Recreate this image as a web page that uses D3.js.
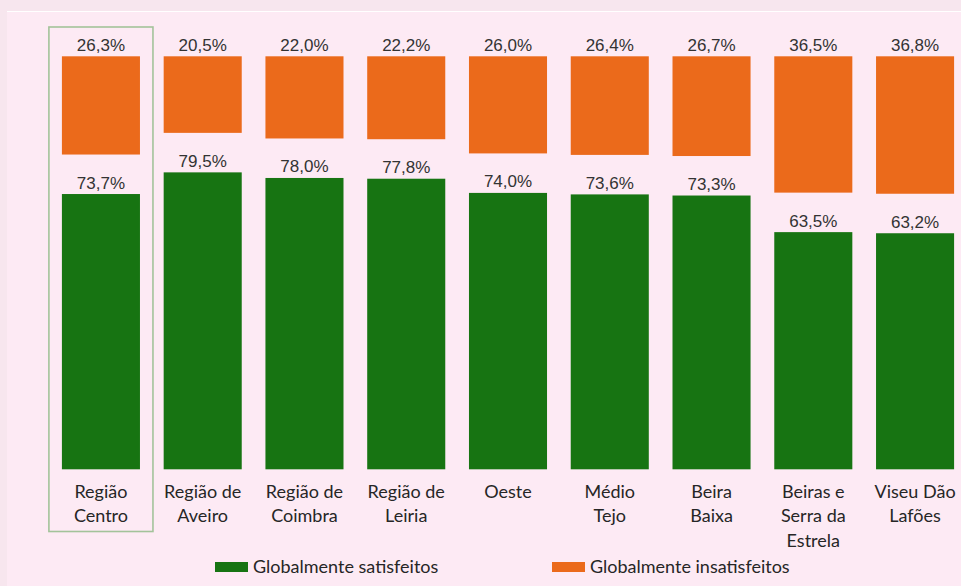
<!DOCTYPE html>
<html>
<head>
<meta charset="utf-8">
<script src="https://cdn.jsdelivr.net/npm/d3@7"></script>
<style>
  html, body { margin: 0; padding: 0; background: #f7e6ee; }
  svg { display: block; }
</style>
</head>
<body>
<svg id="chart" width="961" height="586"></svg>
<script>
// Satisfaction by NUTS III region (percent)
const categories = [
  ["Região", "Centro"],
  ["Região de", "Aveiro"],
  ["Região de", "Coimbra"],
  ["Região de", "Leiria"],
  ["Oeste"],
  ["Médio", "Tejo"],
  ["Beira", "Baixa"],
  ["Beiras e", "Serra da", "Estrela"],
  ["Viseu Dão", "Lafões"]
];
const satisfeitos = [73.7, 79.5, 78.0, 77.8, 74.0, 73.6, 73.3, 63.5, 63.2];
const insatisfeitos = [26.3, 20.5, 22.0, 22.2, 26.0, 26.4, 26.7, 36.5, 36.8];
const seriesNames = ["Globalmente satisfeitos", "Globalmente insatisfeitos"];

const colors = { sat: "#177412", ins: "#eb6a1b" };
const fmt = v => d3.format(".1f")(v).replace(".", ",") + "%";

const svg = d3.select("#chart");

// inner panel
svg.append("rect").attr("x", 7).attr("y", 11).attr("width", 954).attr("height", 575)
  .attr("fill", "#fdeaf4");
svg.append("line").attr("x1", 7).attr("x2", 961).attr("y1", 11.5).attr("y2", 11.5)
  .attr("stroke", "#ffffff").attr("stroke-width", 1);

const keys = categories.map((c, i) => i);
const x = d3.scaleBand().domain(keys).range([50, 966]).paddingInner(0.233).paddingOuter(0.117);

// green bars grow up from the baseline, orange bars hang from the top
const baseY = 469.3, topY = 56.3, pxPerPct = 3.735;
const ySat = d3.scaleLinear().domain([0, 100]).range([baseY, baseY - 100 * pxPerPct]);
const yIns = d3.scaleLinear().domain([0, 100]).range([topY, topY + 100 * pxPerPct]);

// highlight frame around the first region
const bw = x.bandwidth();
svg.append("rect")
  .attr("x", x(0) - 13).attr("y", 27)
  .attr("width", bw + 26).attr("height", 504.5)
  .attr("fill", "none").attr("stroke", "#a3c39a").attr("stroke-width", 1.6);

const g = svg.append("g");

g.selectAll("rect.ins").data(insatisfeitos).join("rect")
  .attr("class", "ins")
  .attr("x", (d, i) => x(i)).attr("width", bw)
  .attr("y", yIns(0)).attr("height", d => yIns(d) - yIns(0))
  .attr("fill", colors.ins);

g.selectAll("rect.sat").data(satisfeitos).join("rect")
  .attr("class", "sat")
  .attr("x", (d, i) => x(i)).attr("width", bw)
  .attr("y", d => ySat(d)).attr("height", d => ySat(0) - ySat(d))
  .attr("fill", colors.sat);

const labelFont = "'Liberation Sans', Arial, sans-serif";
g.selectAll("text.ins").data(insatisfeitos).join("text")
  .attr("class", "ins")
  .attr("x", (d, i) => x(i) + bw / 2).attr("y", yIns(0) - 5.5)
  .attr("text-anchor", "middle").attr("font-family", labelFont).attr("font-size", 17)
  .attr("fill", "#333333").text(fmt);

g.selectAll("text.sat").data(satisfeitos).join("text")
  .attr("class", "sat")
  .attr("x", (d, i) => x(i) + bw / 2).attr("y", d => ySat(d) - 5.5)
  .attr("text-anchor", "middle").attr("font-family", labelFont).attr("font-size", 17)
  .attr("fill", "#333333").text(fmt);

// category labels
const catFont = "Lato, 'Open Sans', sans-serif";
const cat = g.selectAll("text.cat").data(categories).join("text")
  .attr("class", "cat")
  .attr("text-anchor", "middle").attr("font-family", catFont).attr("font-size", 18)
  .attr("fill", "#262626");
cat.each(function(lines, i) {
  d3.select(this).selectAll("tspan").data(lines).join("tspan")
    .attr("x", x(i) + bw / 2)
    .attr("y", (l, j) => 497.5 + j * 24.5)
    .text(l => l);
});

// legend
const legend = svg.append("g");
const legendItems = [
  { name: seriesNames[0], color: colors.sat, x: 215 },
  { name: seriesNames[1], color: colors.ins, x: 552 }
];
legendItems.forEach(it => {
  legend.append("rect").attr("x", it.x).attr("y", 562).attr("width", 33).attr("height", 10)
    .attr("fill", it.color);
  legend.append("text").attr("x", it.x + 38).attr("y", 573)
    .attr("font-family", catFont).attr("font-size", 18).attr("fill", "#262626")
    .text(it.name);
});
</script>
</body>
</html>
